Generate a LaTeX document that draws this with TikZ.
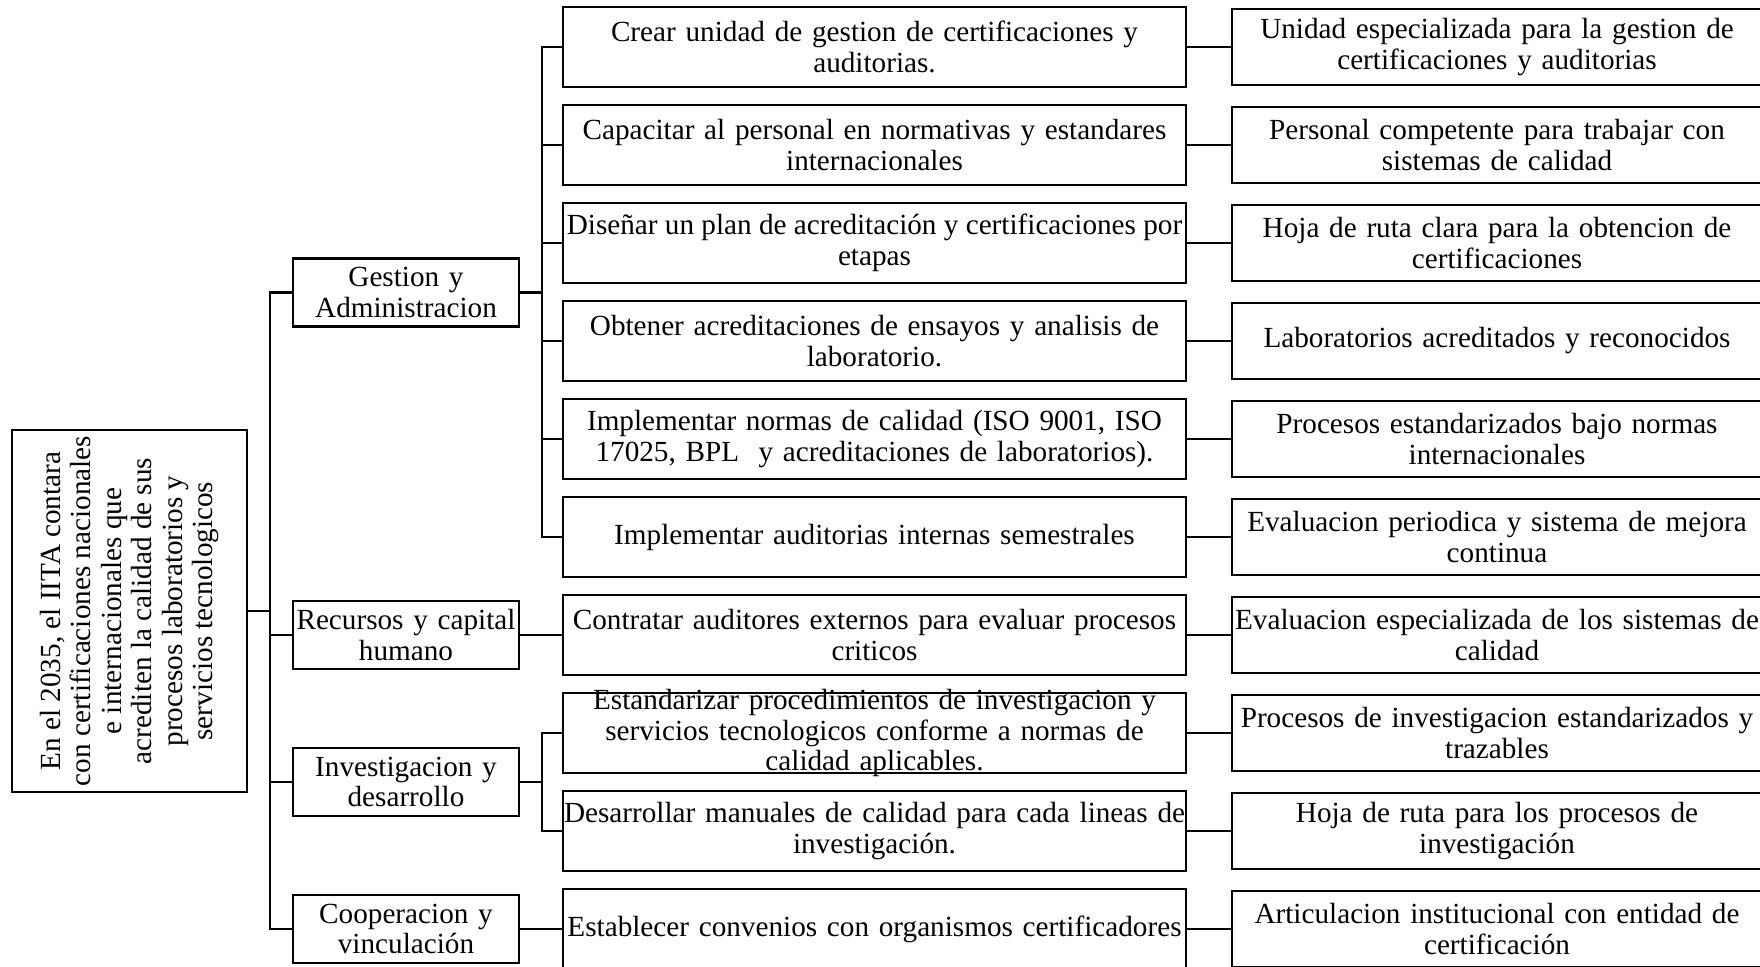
\documentclass[tikz,border=0pt]{standalone}
\usepackage{fontspec}
\setmainfont{Liberation Serif}
\usetikzlibrary{calc}
\tikzset{
  boxfont/.style={font=\fontsize{14.6}{15.2}\selectfont},
  box/.style={draw, line width=1.2pt, inner sep=0pt, align=center, boxfont},
  rootbox/.style={box, minimum width=117.5pt, minimum height=181pt},
  areabox/.style={box, text width=113pt, minimum height=34pt},
  actbox/.style={box, text width=311.5pt, minimum height=40pt},
  wideactbox/.style={box, minimum width=311.5pt, minimum height=40pt},
  resbox/.style={box, text width=265pt, minimum height=38pt},
  txt/.style={inner sep=0pt, align=center, boxfont},
  link/.style={line width=1.2pt},
}
\begin{document}
\begin{tikzpicture}[x=0.5pt, y=-0.5pt]
\useasboundingbox (0,0) rectangle (1760,966);

% vision statement
\node[rootbox] (root) at (129.5,611) {};
\node[txt, rotate=90] (roottxt) at (root.center)
  {En el 2035, el IITA contara\\con certificaciones nacionales\\e internacionales que\\acrediten la calidad de sus\\procesos laboratorios y\\servicios tecnologicos};

% strategic areas
\node[areabox] (g1) at (406,292.5) {Gestion y\\Administracion};
\node[areabox] (g2) at (406,635) {Recursos y capital\\humano};
\node[areabox] (g3) at (406,782) {Investigacion y\\desarrollo};
\node[areabox] (g4) at (406,929) {Cooperacion y\\vinculación};

% actions
\node[actbox] (m0) at (874.5,47) {Crear unidad de gestion de certificaciones y\\auditorias.};
\node[actbox] (m1) at (874.5,145) {Capacitar al personal en normativas y estandares\\internacionales};
\node[wideactbox] (m2) at (874.5,243) {Diseñar un plan de acreditación y certificaciones por\\etapas};
\node[actbox] (m3) at (874.5,341) {Obtener acreditaciones de ensayos y analisis de\\laboratorio.};
\node[actbox] (m4) at (874.5,439) {Implementar normas de calidad (ISO 9001, ISO\\17025, BPL\ \ y acreditaciones de laboratorios).};
\node[actbox] (m5) at (874.5,537) {Implementar auditorias internas semestrales};
\node[actbox] (m6) at (874.5,635) {Contratar auditores externos para evaluar procesos\\criticos};
\node[actbox] (m7) at (874.5,733) {};
\node[txt, text width=311.5pt] (m7txt) at (m7.center)
  {Estandarizar procedimientos de investigacion y\\servicios tecnologicos conforme a normas de\\calidad aplicables.};
\node[actbox] (m8) at (874.5,831) {Desarrollar manuales de calidad para cada lineas de\\investigación.};
\node[actbox] (m9) at (874.5,929) {Establecer convenios con organismos certificadores};

% expected results
\node[resbox] (r0) at (1497,47) {Unidad especializada para la gestion de\\certificaciones y auditorias};
\node[resbox] (r1) at (1497,145) {Personal competente para trabajar con\\sistemas de calidad};
\node[resbox] (r2) at (1497,243) {Hoja de ruta clara para la obtencion de\\certificaciones};
\node[resbox] (r3) at (1497,341) {Laboratorios acreditados y reconocidos};
\node[resbox] (r4) at (1497,439) {Procesos estandarizados bajo normas\\internacionales};
\node[resbox] (r5) at (1497,537) {Evaluacion periodica y sistema de mejora\\continua};
\node[resbox] (r6) at (1497,635) {Evaluacion especializada de los sistemas de\\calidad};
\node[resbox] (r7) at (1497,733) {Procesos de investigacion estandarizados y\\trazables};
\node[resbox] (r8) at (1497,831) {Hoja de ruta para los procesos de\\investigación};
\node[resbox] (r9) at (1497,929) {Articulacion institucional con entidad de\\certificación};

% connectors: vision to areas
\coordinate (t0) at ($(root.east)+(22,0)$);
\draw[link] (root.east) -- (t0);
\foreach \g in {g1,g2,g3,g4} \draw[link] (t0) |- (\g.west);

% areas to actions
\coordinate (b1) at ($(g1.east)+(22,0)$);
\draw[link] (g1.east) -- (b1);
\foreach \m in {m0,m1,m2,m3,m4,m5} \draw[link] (b1) |- (\m.west);
\draw[link] (g2.east) -- (m6.west);
\coordinate (b3) at ($(g3.east)+(22,0)$);
\draw[link] (g3.east) -- (b3);
\foreach \m in {m7,m8} \draw[link] (b3) |- (\m.west);
\draw[link] (g4.east) -- (m9.west);

% actions to results
\foreach \k in {0,...,9} \draw[link] (m\k.east) -- (r\k.west);
\end{tikzpicture}
\end{document}
